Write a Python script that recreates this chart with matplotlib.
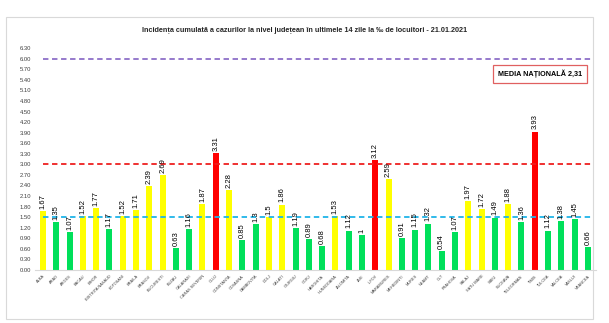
import matplotlib.pyplot as plt
from matplotlib.patches import Rectangle

# County data, 21.01.2021
judete = ["ALBA", "ARAD", "ARGES", "BACAU", "BIHOR", "BISTRITA NASAUD", "BOTOSANI",
          "BRAILA", "BRASOV", "BUCURESTI", "BUZAU", "CALARASI", "CARAS SEVERIN", "CLUJ",
          "CONSTANTA", "COVASNA", "DAMBOVITA", "DOLJ", "GALATI", "GIURGIU", "GORJ",
          "HARGHITA", "HUNEDOARA", "IALOMITA", "IASI", "ILFOV", "MARAMURES", "MEHEDINTI",
          "MURES", "NEAMT", "OLT", "PRAHOVA", "SALAJ", "SATU MARE", "SIBIU", "SUCEAVA",
          "TELEORMAN", "TIMIS", "TULCEA", "VALCEA", "VASLUI", "VRANCEA"]
valori = [1.67, 1.35, 1.07, 1.52, 1.77, 1.17, 1.52, 1.71, 2.39, 2.69, 0.63, 1.16, 1.87,
          3.31, 2.28, 0.85, 1.3, 1.5, 1.86, 1.19, 0.89, 0.68, 1.53, 1.12, 1, 3.12, 2.59,
          0.91, 1.15, 1.32, 0.54, 1.07, 1.97, 1.72, 1.49, 1.88, 1.36, 3.93, 1.12, 1.38,
          1.45, 0.66]
prag_6 = 6.0
prag_3 = 3.0
prag_15 = 1.5
media = "2,31"


def culoare(v):
    if v > 3:
        return "#ff0000"
    if v >= 1.5:
        return "#ffff00"
    return "#00e05a"


plt.rcParams['font.family'] = ['Liberation Sans', 'DejaVu Sans']

fig = plt.figure(figsize=(6.09, 3.23), dpi=100)
# chart frame
fig.patches.append(Rectangle((6 / 609, 4 / 323), 587 / 609, 302 / 323, transform=fig.transFigure,
                             fill=False, edgecolor="#d9d9d9", linewidth=0.8))
ax = fig.add_axes([0.0575, 0.164, 0.921, 0.687])

x = list(range(len(judete)))
ax.bar(x, valori, width=0.45, color=[culoare(v) for v in valori])
for xi, v in zip(x, valori):
    ax.text(xi, v + 0.06, f"{v:g}", rotation=90, ha="center", va="bottom", fontsize=5.5)

n = len(judete) - 1
ax.plot([0, n + 0.4], [prag_6, prag_6], ls=(0, (3, 2)), color="#8e6fc8", lw=1.3)
ax.plot([0, n + 0.4], [prag_3, prag_3], ls=(0, (3, 2)), color="#ee2020", lw=1.3)
ax.plot([0, n + 0.4], [prag_15, prag_15], ls=(0, (3, 2)), color="#1fb4e8", lw=1.3)

ax.set_xlim(-0.6, n + 0.6)
ax.set_ylim(0, 6.3)
ax.set_yticks([i * 0.3 for i in range(22)])
ax.set_yticklabels([f"{i * 0.3:.2f}" for i in range(22)], fontsize=4.2, color="#404040")
ax.set_xticks(x)
ax.set_xticklabels(judete, rotation=45, ha="right", rotation_mode="anchor", fontsize=2.8,
                   color="#404040")
ax.tick_params(length=0, pad=3)
for s in ["top", "right", "left"]:
    ax.spines[s].set_visible(False)
ax.spines["bottom"].set_color("#d9d9d9")

fig.text(0.5, 0.907, "Incidența cumulată a cazurilor la nivel județean în ultimele 14 zile la ‰ de locuitori - 21.01.2021",
         ha="center", va="center", fontsize=5.2, fontweight="bold", color="#262626")
fig.text(540 / 609, 1 - 74 / 323, f"MEDIA NAȚIONALĂ {media}", ha="center", va="center",
         fontsize=5.2, fontweight="bold",
         bbox=dict(boxstyle="square,pad=0.7", facecolor="white", edgecolor="#e06060", linewidth=0.9))

fig.savefig("out.png", dpi=100)
